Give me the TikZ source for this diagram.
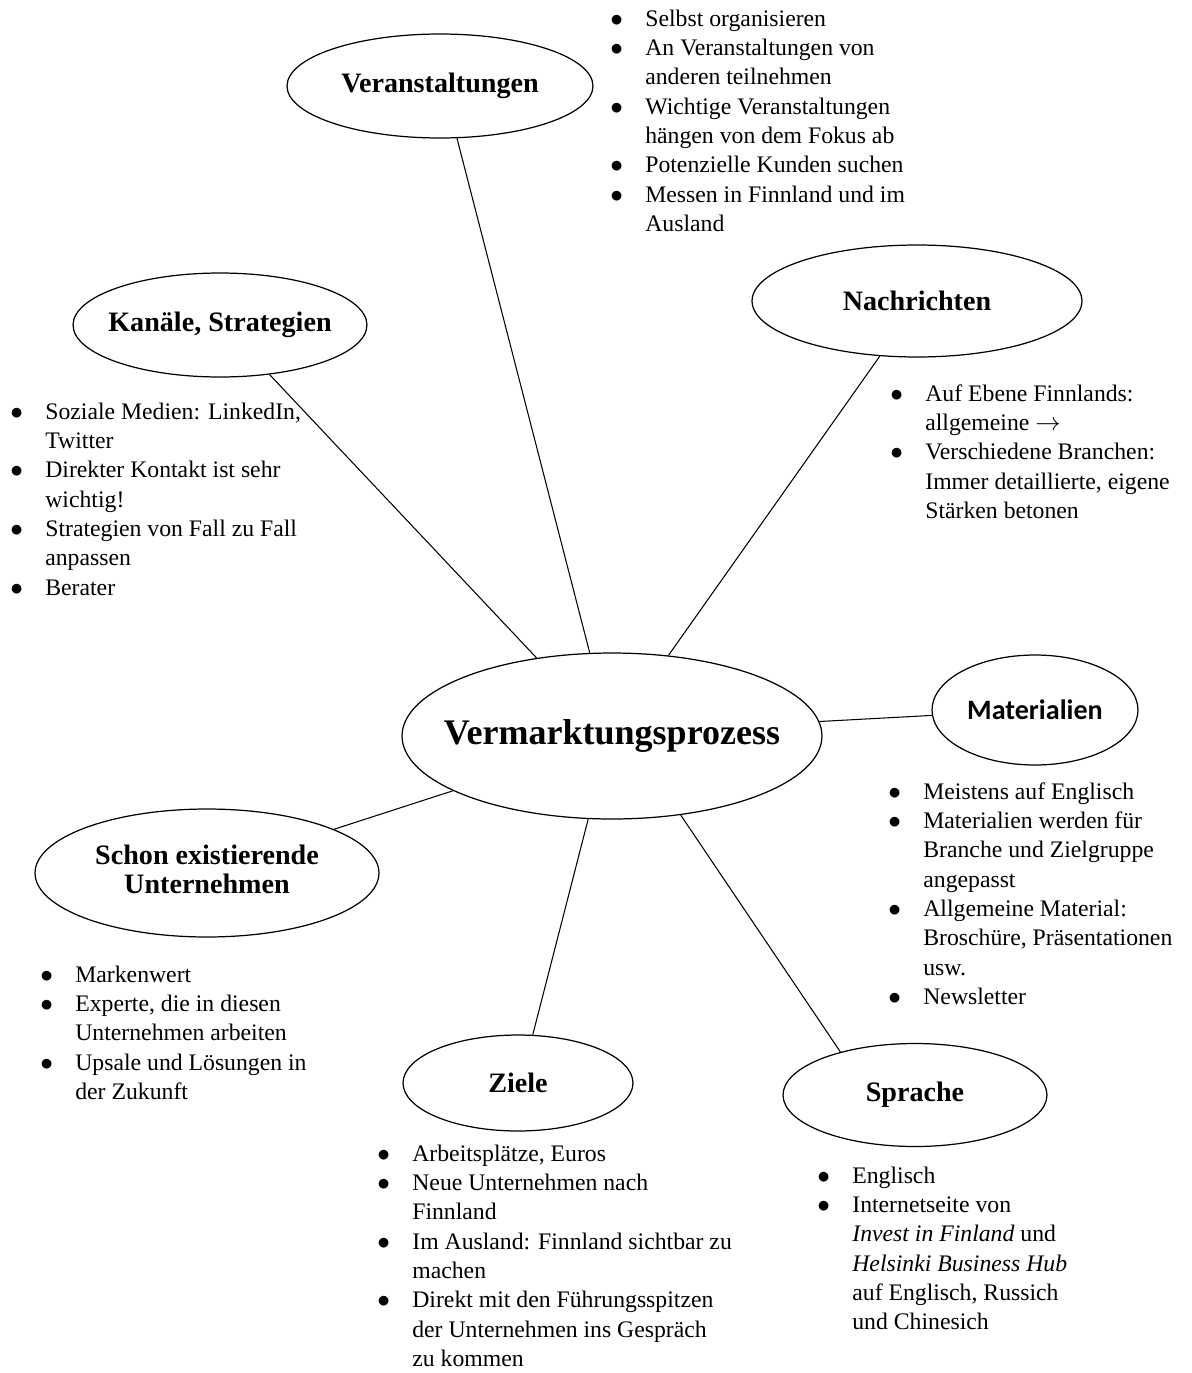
\documentclass[tikz,border=0pt]{standalone}
\usepackage{fontspec}
\setmainfont{Liberation Serif}
\newfontfamily\calfont{Carlito}
\usetikzlibrary{shapes.geometric}
\tikzset{
  bub/.style={ellipse, draw, line width=0.7pt, inner sep=0pt, font=\fontsize{16}{17}\selectfont\bfseries},
  lst/.style={anchor=base west, inner sep=0pt, align=left, font=\fontsize{13.5}{16.7}\selectfont},
  lnk/.style={line width=0.6pt},
}
\newcommand\bp{\llap{\makebox[0.7cm][l]{$\bullet$}}}
\newcommand\ctr[1]{\makebox[0pt]{#1}}
\begin{document}
\begin{tikzpicture}[x=0.02cm,y=-0.02cm]
\useasboundingbox (0,0) rectangle (1191,1373);
\node[bub, minimum width=8.4cm, minimum height=3.32cm, font=\fontsize{20.5}{24}\selectfont\bfseries] (el0) at (612,736){\ctr{Vermarktungsprozess}};
\node[bub, minimum width=6.12cm, minimum height=2.08cm] (el1) at (440,86){\ctr{Veranstaltungen}};
\node[lst] (li1) at (645,26){\begin{tabular}[t]{@{}l@{}}
\bp Selbst organisieren\\
\bp An Veranstaltungen von\\
anderen teilnehmen\\
\bp Wichtige Veranstaltungen\\
hängen von dem Fokus ab\\
\bp Potenzielle Kunden suchen\\
\bp Messen in Finnland und im\\
Ausland
\end{tabular}};
\draw[lnk](el0.105) -- (el1.288);
\node[bub, minimum width=5.88cm, minimum height=2.08cm] (el2) at (220,325){\ctr{Kanäle, Strategien}};
\node[lst] (li2) at (45,419){\begin{tabular}[t]{@{}l@{}}
\bp Soziale Medien: LinkedIn,\\
Twitter\\
\bp Direkter Kontakt ist sehr\\
wichtig!\\
\bp Strategien von Fall zu Fall\\
anpassen\\
\bp Berater
\end{tabular}};
\draw[lnk](el0.134) -- (el2.315);
\node[bub, minimum width=6.6cm, minimum height=2.24cm] (el3) at (917,301){\ctr{Nachrichten}};
\node[lst] (li3) at (925,401){\begin{tabular}[t]{@{}l@{}}
\bp Auf Ebene Finnlands:\\
allgemeine $\rightarrow$\\
\bp Verschiedene Branchen:\\
Immer detaillierte, eigene\\
Stärken betonen
\end{tabular}};
\draw[lnk](el0.55) -- (el3.236);
\node[bub, minimum width=4.12cm, minimum height=2.2cm, font=\fontsize{16}{17}\calfont\bfseries] (el4) at (1035,710){\ctr{Materialien}};
\node[lst] (li4) at (923,799){\begin{tabular}[t]{@{}l@{}}
\bp Meistens auf Englisch\\
\bp Materialien werden für\\
Branche und Zielgruppe\\
angepasst\\
\bp Allgemeine Material:\\
Broschüre, Präsentationen\\
usw.\\
\bp Newsletter
\end{tabular}};
\draw[lnk](el0.4) -- (el4.183);
\node[bub, minimum width=6.88cm, minimum height=2.56cm] (el5) at (207,873){\ctr{\begin{tabular}{@{}c@{}}Schon existierende\\Unternehmen\end{tabular}}};
\node[lst] (li5) at (75,982){\begin{tabular}[t]{@{}l@{}}
\bp Markenwert\\
\bp Experte, die in diesen\\
Unternehmen arbeiten\\
\bp Upsale und Lösungen in\\
der Zukunft
\end{tabular}};
\draw[lnk](el0.199) -- (el5.19);
\node[bub, minimum width=4.6cm, minimum height=1.92cm] (el6) at (518,1083){\ctr{Ziele}};
\node[lst] (li6) at (412,1161){\begin{tabular}[t]{@{}l@{}}
\bp Arbeitsplätze, Euros\\
\bp Neue Unternehmen nach\\
Finnland\\
\bp Im Ausland: Finnland sichtbar zu\\
machen\\
\bp Direkt mit den Führungsspitzen\\
der Unternehmen ins Gespräch\\
zu kommen
\end{tabular}};
\draw[lnk](el0.254) -- (el6.73);
\node[bub, minimum width=5.28cm, minimum height=2.06cm] (el7) at (915,1095){\ctr{Sprache}};
\node[lst] (li7) at (852,1183){\begin{tabular}[t]{@{}l@{}}
\bp Englisch\\
\bp Internetseite von\\
\textit{Invest in Finland} und\\
\textit{Helsinki Business Hub}\\
auf Englisch, Russich\\
und Chinesich
\end{tabular}};
\draw[lnk](el0.311) -- (el7.150);

\end{tikzpicture}
\end{document}
